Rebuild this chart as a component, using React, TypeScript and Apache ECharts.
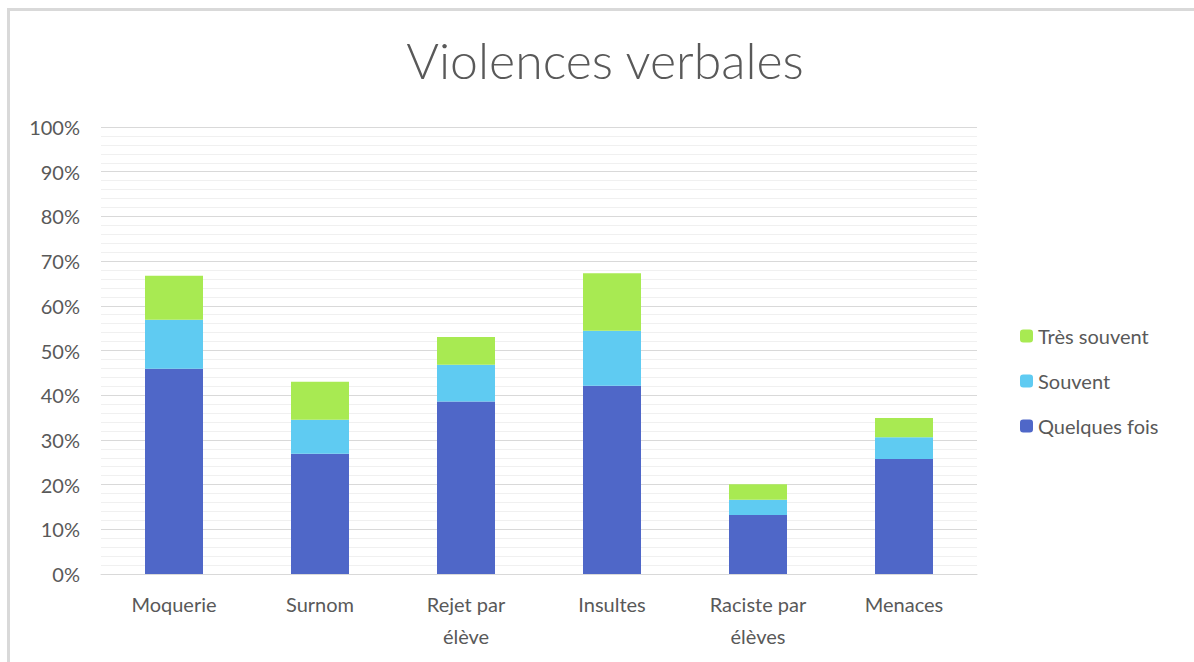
import React, { useEffect, useRef } from "react";
import * as echarts from "echarts";

const categories = ["Moquerie", "Surnom", "Rejet par\nélève", "Insultes", "Raciste par\nélèves", "Menaces"];
const quelquesFois = [45.9, 26.9, 38.6, 42.1, 13.2, 25.7];
const souvent = [11.0, 7.6, 8.2, 12.3, 3.4, 4.9];
const tresSouvent = [9.8, 8.5, 6.2, 12.9, 3.5, 4.3];
const seriesNames = ["Quelques fois", "Souvent", "Très souvent"];
const colors = ["#4F67C8", "#5FCBF2", "#A8EA52"];

export default function App() {
  const ref = useRef<HTMLDivElement>(null);
  useEffect(() => {
    if (!ref.current) return;
    const chart = echarts.init(ref.current, null, { renderer: "svg" });
    const font = "Lato, 'Open Sans', sans-serif";
    const values = [quelquesFois, souvent, tresSouvent];
    chart.setOption({
      animation: false,
      backgroundColor: "#FFFFFF",
      title: {
        text: "Violences verbales",
        left: 600,
        textAlign: "center",
        top: 30,
        textStyle: { fontFamily: font, fontWeight: 300, fontSize: 50, color: "#595959" },
      },
      graphic: [
        { type: "line", shape: { x1: 8.5, y1: 9.5, x2: 8.5, y2: 662 }, style: { stroke: "#D9D9D9", lineWidth: 3 } },
        { type: "line", shape: { x1: 7, y1: 9.5, x2: 1194, y2: 9.5 }, style: { stroke: "#D9D9D9", lineWidth: 3 } },
      ],
      legend: {
        orient: "vertical",
        left: 1015,
        top: 321,
        itemWidth: 13,
        itemHeight: 13,
        itemGap: 25,
        data: ["Très souvent", "Souvent", "Quelques fois"],
        textStyle: { fontFamily: font, fontSize: 20, color: "#595959" },
      },
      grid: { left: 101, right: 217, top: 127, bottom: 88 },
      xAxis: {
        type: "category",
        data: categories,
        axisLine: { lineStyle: { color: "#D9D9D9", width: 1 } },
        axisTick: { show: false },
        axisLabel: { fontFamily: font, fontSize: 20, color: "#595959", margin: 14, lineHeight: 32, interval: 0 },
      },
      yAxis: {
        type: "value",
        min: 0,
        max: 100,
        interval: 10,
        axisLabel: { formatter: "{value}%", fontFamily: font, fontSize: 20, color: "#595959", margin: 21 },
        axisLine: { show: false },
        axisTick: { show: false },
        splitLine: { lineStyle: { color: "#D9D9D9", width: 1 } },
        minorTick: { show: false, splitNumber: 5 },
        minorSplitLine: { show: true, lineStyle: { color: "#F0F0F0", width: 1 } },
      },
      series: seriesNames.map((name, i) => ({
        name,
        type: "bar",
        stack: "total",
        barWidth: 58,
        itemStyle: { color: colors[i] },
        data: values[i],
      })),
    });
    return () => chart.dispose();
  }, []);
  return <div ref={ref} style={{ position: "absolute", left: 0, top: 0, width: 1194, height: 662 }} />;
}
